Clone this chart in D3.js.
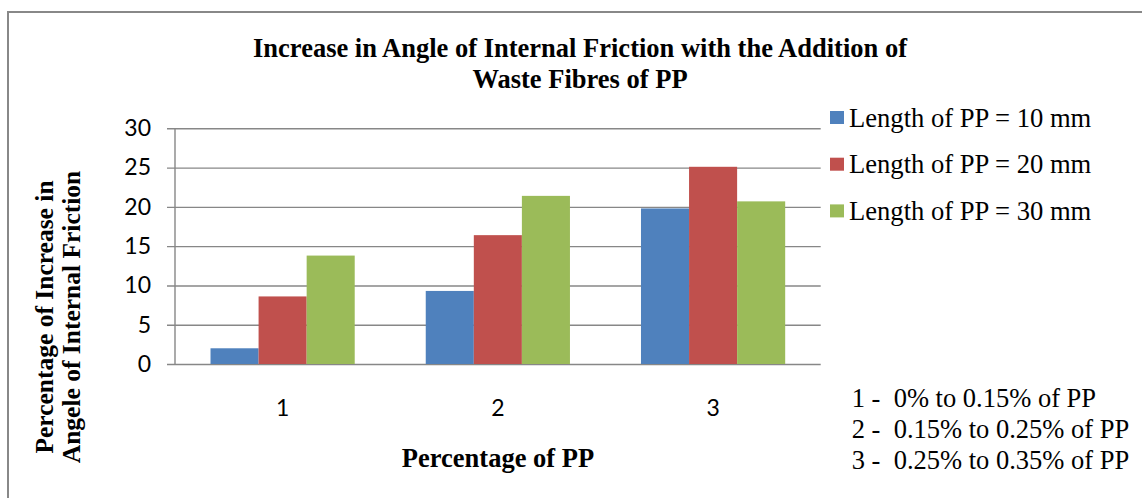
<!DOCTYPE html>
<html lang="en">
  <head>
    <meta charset="UTF-8" />
    <title>Increase in Angle of Internal Friction</title>
    <style>
      body { margin: 0; background: #fff; }
      svg { display: block; }
      .serif { font-family: 'Liberation Serif', 'Times New Roman', serif; fill: #000; }
    </style>
  </head>
  <body>
    <svg id="chart"></svg>
    <script src="https://cdn.jsdelivr.net/npm/d3@7"></script>
    <script>
      // data
      const categories = ['1', '2', '3'];
      const seriesNames = ['Length of PP = 10 mm', 'Length of PP = 20 mm', 'Length of PP = 30 mm'];
      const length10 = [2.0, 9.3, 19.8];
      const length20 = [8.6, 16.4, 25.1];
      const length30 = [13.8, 21.4, 20.7];
      const seriesColors = ['#4f81bd', '#c0504d', '#9bbb59'];
      const yTicks = [0, 5, 10, 15, 20, 25, 30];
      const titleLines = ['Increase in Angle of Internal Friction with the Addition of', 'Waste Fibres of PP'];
      const yTitleLines = ['Percentage of Increase in', 'Angele of Internal Friction'];
      const notes = ['1 -  0% to 0.15% of PP', '2 -  0.15% to 0.25% of PP', '3 -  0.25% to 0.35% of PP'];

      const width = 1142;
      const height = 498;
      const plot = { left: 175, top: 128.3, right: 820.7, bottom: 364 };
      const tickFont = 'Lato, "Open Sans", sans-serif';

      const svg = d3.select('#chart').attr('width', width).attr('height', height);

      // outer chart frame (runs off the right and bottom of the picture)
      svg.append('rect')
        .attr('x', 8).attr('y', 12)
        .attr('width', width + 20).attr('height', height + 20)
        .attr('fill', 'none').attr('stroke', '#888').attr('stroke-width', 2);

      const table = categories.map((c, i) => ({
        cat: c,
        values: [length10[i], length20[i], length30[i]],
      }));

      const y = d3.scaleLinear().domain([0, 30]).range([plot.bottom, plot.top]);
      const x0 = d3.scaleBand()
        .domain(categories)
        .range([plot.left, plot.right])
        .paddingInner(0.33)
        .paddingOuter(0.165);
      const x1 = d3.scaleBand().domain([0, 1, 2]).range([0, x0.bandwidth()]);

      // gridlines + y labels
      const yAxis = d3.axisLeft(y)
        .tickValues(yTicks)
        .tickSize(-(plot.right - 167))
        .tickPadding(16);
      const yg = svg.append('g').attr('transform', 'translate(167,0)').call(yAxis);
      yg.select('.domain').remove();
      yg.selectAll('.tick line').attr('stroke', '#878787').attr('stroke-width', 1.4);
      yg.selectAll('.tick text')
        .style('font-family', tickFont)
        .style('font-size', '23px')
        .attr('fill', '#000');

      svg.append('line')
        .attr('x1', plot.left).attr('x2', plot.left)
        .attr('y1', plot.top).attr('y2', plot.bottom)
        .attr('stroke', '#878787').attr('stroke-width', 1.4);

      // bars
      const groups = svg.selectAll('.group')
        .data(table)
        .enter()
        .append('g')
        .attr('transform', (d) => `translate(${x0(d.cat)},0)`);
      groups.selectAll('rect')
        .data((d) => d.values)
        .enter()
        .append('rect')
        .attr('x', (d, i) => x1(i))
        .attr('y', (d) => y(d))
        .attr('width', x1.bandwidth())
        .attr('height', (d) => y(0) - y(d))
        .attr('fill', (d, i) => seriesColors[i]);

      // x labels
      const xg = svg.append('g')
        .attr('transform', `translate(0,${plot.bottom})`)
        .call(d3.axisBottom(x0).tickSize(0));
      xg.select('.domain').remove();
      xg.selectAll('.tick text')
        .attr('y', 44).attr('dy', '0.35em')
        .style('font-family', tickFont)
        .style('font-size', '23px')
        .attr('fill', '#000');

      // title
      svg.append('text')
        .attr('class', 'serif')
        .attr('text-anchor', 'middle')
        .style('font-size', '26.5px')
        .style('font-weight', 'bold')
        .selectAll('tspan')
        .data(titleLines)
        .enter()
        .append('tspan')
        .attr('x', 580)
        .attr('y', (d, i) => 57.3 + i * 31)
        .text((d) => d);

      // axis titles
      svg.append('text')
        .attr('class', 'serif')
        .attr('text-anchor', 'middle')
        .attr('x', 498).attr('y', 467.3)
        .style('font-size', '26.5px')
        .style('font-weight', 'bold')
        .text('Percentage of PP');

      svg.append('text')
        .attr('class', 'serif')
        .attr('text-anchor', 'middle')
        .attr('transform', 'translate(0,317) rotate(-90)')
        .style('font-size', '25.5px')
        .style('font-weight', 'bold')
        .selectAll('tspan')
        .data(yTitleLines)
        .enter()
        .append('tspan')
        .attr('x', 0)
        .attr('y', (d, i) => 53 + i * 26.7)
        .text((d) => d);

      // legend
      const legend = svg.append('g');
      const rows = legend.selectAll('g')
        .data(seriesNames)
        .enter()
        .append('g')
        .attr('transform', (d, i) => `translate(830,${126.7 + i * 46.7})`);
      rows.append('rect')
        .attr('x', 0).attr('y', -15.7)
        .attr('width', 14).attr('height', 13)
        .attr('fill', (d, i) => seriesColors[i]);
      rows.append('text')
        .attr('class', 'serif')
        .attr('x', 19)
        .style('font-size', '26.6px')
        .text((d) => d);

      // notes under the legend
      svg.append('text')
        .attr('class', 'serif')
        .style('font-size', '26.5px')
        .style('white-space', 'pre')
        .selectAll('tspan')
        .data(notes)
        .enter()
        .append('tspan')
        .attr('x', 851.7)
        .attr('y', (d, i) => 406.7 + i * 31.3)
        .text((d) => d);
    </script>
  </body>
</html>
